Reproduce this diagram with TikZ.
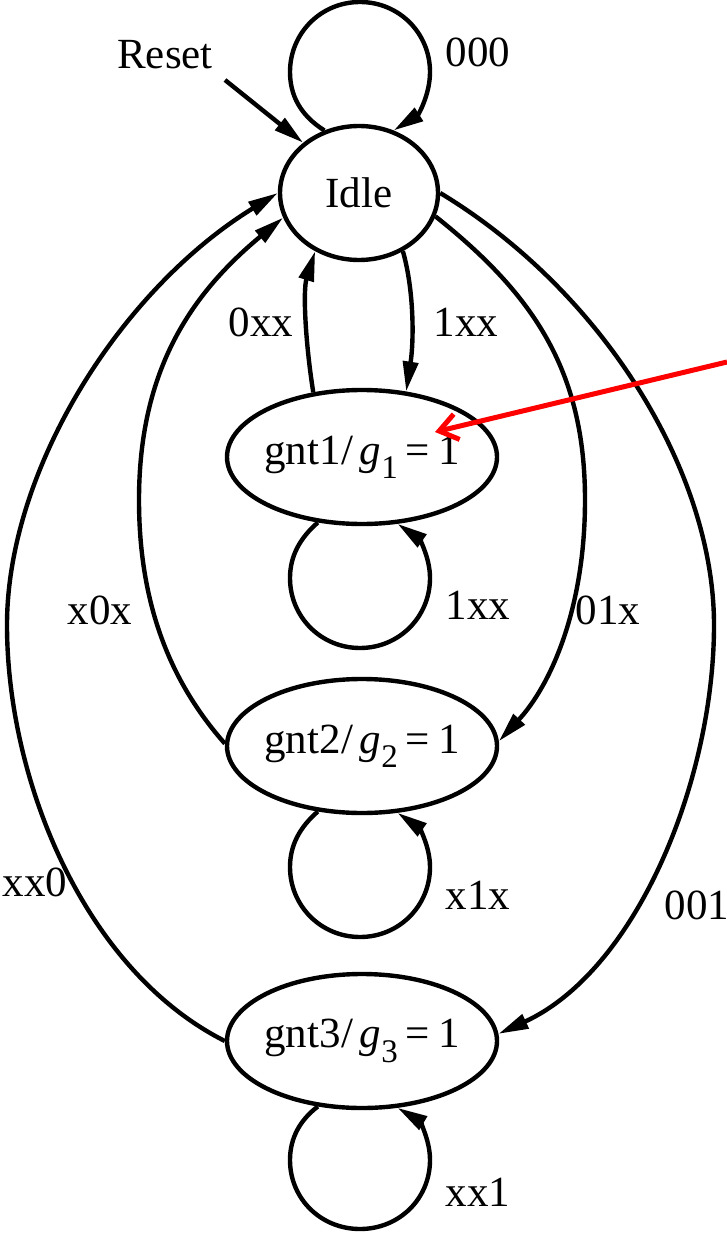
\documentclass[tikz,border=0pt]{standalone}
\usepackage{fontspec}
\setmainfont{Liberation Serif}
\usetikzlibrary{shapes.geometric,arrows.meta}
\newcommand\bigfont{\fontsize{43}{51}\selectfont}
\newcommand\gsub[1]{\textit{g}\raisebox{-0.33em}{\fontsize{33}{33}\selectfont #1}}
\newcommand\glabel[1]{\makebox[150pt]{gnt#1\kern1pt/\kern6pt\gsub{#1}\kern8pt=\kern8pt1}}
\tikzset{
  state/.style={draw, ellipse, line width=4.4pt, inner sep=0pt, minimum height=134pt},
  edge/.style={line width=4.4pt, -{Triangle[length=30pt,width=15pt]}},
  lbl/.style={inner sep=0pt},
  redarrow/.style={draw=red, line width=5pt, -{Straight Barb[length=18pt,width=26pt]}}
}
\begin{document}
\begin{tikzpicture}[x=1pt,y=-1pt,font=\bigfont]
\useasboundingbox (0,0) rectangle (727,1233);
% states
\node[state, minimum width=158pt] (idle) at (359,193) {Idle};
\node[state, minimum width=270pt] (g1) at (362,457) {\glabel{1}};
\node[state, minimum width=270pt] (g2) at (362,746) {\glabel{2}};
\node[state, minimum width=270pt] (g3) at (362,1041) {\glabel{3}};
% reset
\node[lbl] (reset) at (165,55) {Reset};
\coordinate (resetstart) at (225,80);
\draw[edge] (resetstart) -- (idle.138);
% self loop idle
\draw[edge] (idle.119) .. controls (300,115) and (290,95) .. (290,72)
  .. controls (290,33) and (321,2) .. (360,2)
  .. controls (399,2) and (430,33) .. (430,72)
  .. controls (430,95) and (418,115) .. (idle.61);
\node[lbl] (l000) at (478,52) {000};
% idle <-> g1
\draw[edge] (g1.127) .. controls (305,340) and (303,290) .. (idle.-127);
\node[lbl] (l0xx) at (261,322) {0xx};
\draw[edge] (idle.-53) .. controls (414,290) and (414,340) .. (g1.56);
\node[lbl] (l1xx) at (466,322) {1xx};
% g1 loop (Y=578)
\draw[edge] (g1.-124) .. controls (300,538) and (290,556) .. (290,578)
  .. controls (290,617) and (321,648) .. (360,648)
  .. controls (399,648) and (430,617) .. (430,578)
  .. controls (430,556) and (418,538) .. (g1.-62);
\node[lbl] (l1xxb) at (478,605) {1xx};
% g2 loop (Y=867)
\draw[edge] (g2.-124) .. controls (300,827) and (290,845) .. (290,867)
  .. controls (290,906) and (321,937) .. (360,937)
  .. controls (399,937) and (430,906) .. (430,867)
  .. controls (430,845) and (418,827) .. (g2.-62);
\node[lbl] (lx1x) at (478,895) {x1x};
% g3 loop (Y=1160)
\draw[edge] (g3.-124) .. controls (300,1120) and (290,1138) .. (290,1160)
  .. controls (290,1199) and (321,1229) .. (360,1229)
  .. controls (399,1229) and (430,1199) .. (430,1160)
  .. controls (430,1138) and (418,1120) .. (g3.-62);
\node[lbl] (lxx1) at (478,1192) {xx1};
% idle <-> g2
\draw[edge] (g2.179) .. controls (174,686) and (139,610) .. (139,500)
  .. controls (139,370) and (191,294) .. (idle.-162);
\node[lbl] (lx0x) at (100,610) {x0x};
\draw[edge] (idle.-17) .. controls (533,294) and (585,370) .. (585,500)
  .. controls (585,610) and (550,686) .. (g2.2);
\node[lbl] (l01x) at (608,610) {01x};
% idle <-> g3
\draw[edge] (g3.180) .. controls (84,970) and (7,780) .. (7,625)
  .. controls (7,470) and (120,290) .. (idle.180);
\node[lbl] (lxx0) at (35,882) {xx0};
\draw[edge] (idle.0) .. controls (601,290) and (714,470) .. (714,625)
  .. controls (714,780) and (637,970) .. (g3.3);
\node[lbl] (l001) at (697,905) {001};
% red annotation arrow
\coordinate (redstart) at (727,362);
\coordinate (redtip) at (435,432);
\draw[redarrow] (redstart) -- (redtip);
\end{tikzpicture}
\end{document}
